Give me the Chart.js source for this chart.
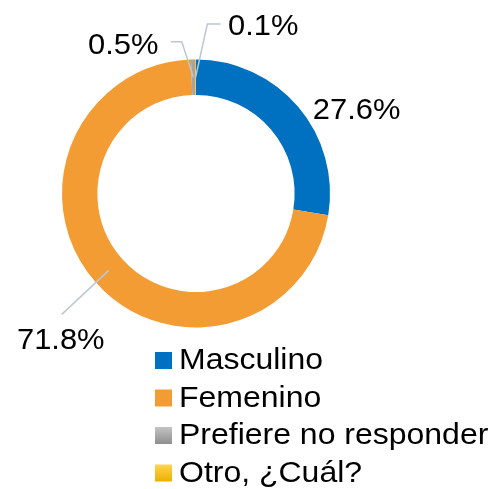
<!DOCTYPE html>
<html>
<head>
<meta charset="utf-8">
<script src="https://cdn.jsdelivr.net/npm/chart.js@4"></script>
<style>
html,body{margin:0;padding:0;background:#fff;}
#wrap{width:490px;height:489px;position:relative;}
</style>
</head>
<body>
<div id="wrap"><canvas id="c" width="490" height="489"></canvas></div>
<script>
const categories = ["Masculino", "Femenino", "Prefiere no responder", "Otro, ¿Cuál?"];
const values = [27.6, 71.8, 0.5, 0.1];
const valueLabels = ["27.6%", "71.8%", "0.5%", "0.1%"];
const colors = ["#0070C0", "#F39C34", "#A5A5A5", "#FFC000"];

const FONT = '30px "Liberation Sans", Arial, sans-serif';
const LINE_COLOR = '#BCC6D4';

// label layout (offsets from ring mid-point of each slice)
const labelLayout = [
  {line: null, text: [72, 0.5], align: 'center'},
  {line: [[-47, 44]], text: [-48, 78.5], align: 'center'},
  {line: [[-11.7, -35.5], [-22.7, -35.5]], text: [-35, -23], align: 'right'},
  {line: [[11.7, -53.2], [25, -53.2]], text: [32.4, -42], align: 'left'}
];

function stretchedText(ctx, text, x, y, align, sx) {
  ctx.save();
  ctx.translate(x, y);
  ctx.scale(sx, 1);
  ctx.textAlign = align;
  ctx.fillText(text, 0, 0);
  ctx.restore();
}

const labelPlugin = {
  id: 'sliceLabels',
  afterDatasetsDraw(chart) {
    const ctx = chart.ctx;
    const meta = chart.getDatasetMeta(0);
    ctx.save();
    meta.data.forEach((arc, i) => {
      const p = arc.getProps(['x','y','startAngle','endAngle','innerRadius','outerRadius'], true);
      const mid = (p.startAngle + p.endAngle) / 2;
      const r = (p.innerRadius + p.outerRadius) / 2;
      const ax = p.x + Math.cos(mid) * r;
      const ay = p.y + Math.sin(mid) * r;
      const L = labelLayout[i];
      if (L.line) {
        ctx.strokeStyle = LINE_COLOR;
        ctx.lineWidth = 1.5;
        ctx.beginPath();
        ctx.moveTo(ax, ay);
        L.line.forEach(pt => ctx.lineTo(ax + pt[0], ay + pt[1]));
        ctx.stroke();
      }
      ctx.fillStyle = '#000';
      ctx.font = FONT;
      ctx.textBaseline = 'alphabetic';
      stretchedText(ctx, valueLabels[i], ax + L.text[0], ay + L.text[1], L.align, 1.03);
    });
    ctx.restore();
  }
};

const legendPlugin = {
  id: 'stackLegend',
  afterDraw(chart) {
    const ctx = chart.ctx;
    const x0 = 155, box = 17, tx = 179, base0 = 369, step = 37.5;
    ctx.save();
    categories.forEach((cat, i) => {
      const by = base0 + i * step;
      let fill = colors[i];
      if (i === 2) {
        const g = ctx.createLinearGradient(0, by - box, 0, by);
        g.addColorStop(0, '#C4C4C4'); g.addColorStop(1, '#8E8E8E');
        fill = g;
      } else if (i === 3) {
        const g = ctx.createLinearGradient(0, by - box, 0, by);
        g.addColorStop(0, '#FFD44F'); g.addColorStop(1, '#EBB000');
        fill = g;
      }
      ctx.fillStyle = fill;
      ctx.fillRect(x0, by - box, box, box);
      ctx.fillStyle = '#000';
      ctx.font = FONT;
      ctx.textBaseline = 'alphabetic';
      stretchedText(ctx, cat, tx, by, 'left', 1.066);
    });
    ctx.restore();
  }
};

new Chart(document.getElementById('c'), {
  type: 'doughnut',
  data: {
    labels: categories,
    datasets: [{
      data: values,
      backgroundColor: colors,
      borderWidth: 0
    }]
  },
  options: {
    responsive: false,
    animation: false,
    cutout: '73.6%',
    layout: { padding: { left: 62, right: 160, top: 59.5, bottom: 161.5 } },
    plugins: {
      legend: { display: false },
      tooltip: { enabled: false }
    }
  },
  plugins: [labelPlugin, legendPlugin]
});
</script>
</body>
</html>
